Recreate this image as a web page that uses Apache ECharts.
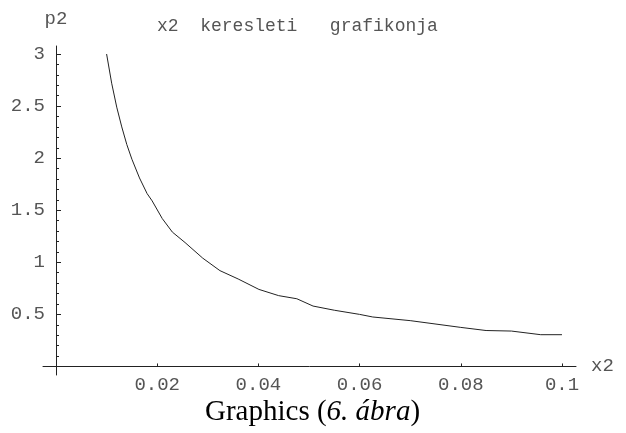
<!DOCTYPE html>
<html>
<head>
<meta charset="utf-8">
<script src="https://cdn.jsdelivr.net/npm/echarts@6/dist/echarts.min.js"></script>
<style>html,body{margin:0;padding:0;background:#fff}#c{width:626px;height:433px}</style>
</head>
<body>
<div id="c"></div>
<script>
var xValues = [0.0100,0.0110,0.0120,0.0130,0.0140,0.0150,0.0165,0.0180,0.0190,0.0210,0.0230,0.0255,0.0290,0.0324,0.0360,0.0401,0.0440,0.0476,0.0508,0.0550,0.0600,0.0626,0.0700,0.0800,0.0850,0.0900,0.0958,0.1000];
var pValues = [3.00,2.72,2.49,2.30,2.13,1.99,1.81,1.66,1.59,1.42,1.29,1.19,1.04,0.92,0.84,0.74,0.68,0.65,0.58,0.54,0.50,0.475,0.44,0.375,0.345,0.34,0.305,0.305];
var xTicks = [0.02,0.04,0.06,0.08,0.1];
var yTicks = [0.5,1,1.5,2,2.5,3];
var yMinorTicks = [0.1,0.2,0.3,0.4,0.6,0.7,0.8,0.9,1.1,1.2,1.3,1.4,1.6,1.7,1.8,1.9,2.1,2.2,2.3,2.4,2.6,2.7,2.8,2.9];
var titleText = 'x2  keresleti   grafikonja';
var xName = 'x2', yName = 'p2';

var mono = 'Liberation Mono';
var txtColor = '#555';
var fs = 19;
var chart = echarts.init(document.getElementById('c'), null, {renderer: 'canvas'});
var data = xValues.map(function (x, i) { return [x, pValues[i]]; });
var X_MIN = -0.00257, X_MAX = 0.10277, Y_MIN = -0.082, Y_MAX = 3.077;
chart.setOption({
  animation: false,
  title: [
    {text: titleText, left: 157, top: 17, padding: 0, textStyle: {fontFamily: mono, fontSize: 18, fontWeight: 'normal', color: txtColor}},
    {text: '{n|Graphics (}{i|6. ábra}{n|)}', left: 205, top: 398, padding: 0,
     textStyle: {fontWeight: 'normal', rich: {
       n: {fontFamily: 'Liberation Serif', fontSize: 29, fontWeight: 'normal', color: '#000'},
       i: {fontFamily: 'Liberation Serif', fontSize: 29, fontWeight: 'normal', fontStyle: 'italic', color: '#000'}
     }}}
  ],
  grid: [
    {left: 43, right: 50, top: 46, bottom: 58, containLabel: false, outerBoundsMode: 'none'},
    {left: 56, right: 50, top: 46, bottom: 58, containLabel: false, outerBoundsMode: 'none'}
  ],
  xAxis: [{
    type: 'value', min: X_MIN, max: X_MAX, gridIndex: 0,
    name: xName, nameLocation: 'end', nameGap: 15,
    nameTextStyle: {fontFamily: mono, fontSize: fs, color: txtColor, verticalAlign: 'middle'},
    axisLine: {onZero: true, lineStyle: {color: '#222', width: 1}},
    axisTick: {show: true, inside: true, length: 3, customValues: xTicks, lineStyle: {color: '#222'}},
    axisLabel: {customValues: xTicks, margin: 0, fontFamily: mono, fontSize: fs, color: txtColor,
      formatter: function (v) { return String(+v.toFixed(2)); }},
    splitLine: {show: false}
  }, {
    type: 'value', min: 0, max: X_MAX, gridIndex: 1, show: false
  }],
  yAxis: [{
    type: 'value', min: Y_MIN, max: Y_MAX, gridIndex: 0,
    name: yName, nameLocation: 'end', nameGap: 18,
    nameTextStyle: {fontFamily: mono, fontSize: fs, color: txtColor, align: 'center'},
    axisLine: {onZero: true, lineStyle: {color: '#222', width: 1}},
    axisTick: {show: true, inside: true, length: 5, customValues: yTicks, lineStyle: {color: '#222'}},
    axisLabel: {customValues: yTicks, margin: -2, fontFamily: mono, fontSize: fs, color: txtColor,
      formatter: function (v) { return String(+v.toFixed(1)); }},
    splitLine: {show: false}
  }, {
    type: 'value', min: Y_MIN, max: Y_MAX, gridIndex: 1, position: 'left',
    axisLine: {show: false, onZero: false},
    axisTick: {show: true, inside: true, length: 3, customValues: yMinorTicks, lineStyle: {color: '#222'}},
    axisLabel: {show: false},
    splitLine: {show: false}
  }],
  series: [{
    type: 'line', data: data, showSymbol: false, smooth: false, xAxisIndex: 0, yAxisIndex: 0,
    lineStyle: {color: '#222', width: 1}
  }]
});
</script>
</body>
</html>
